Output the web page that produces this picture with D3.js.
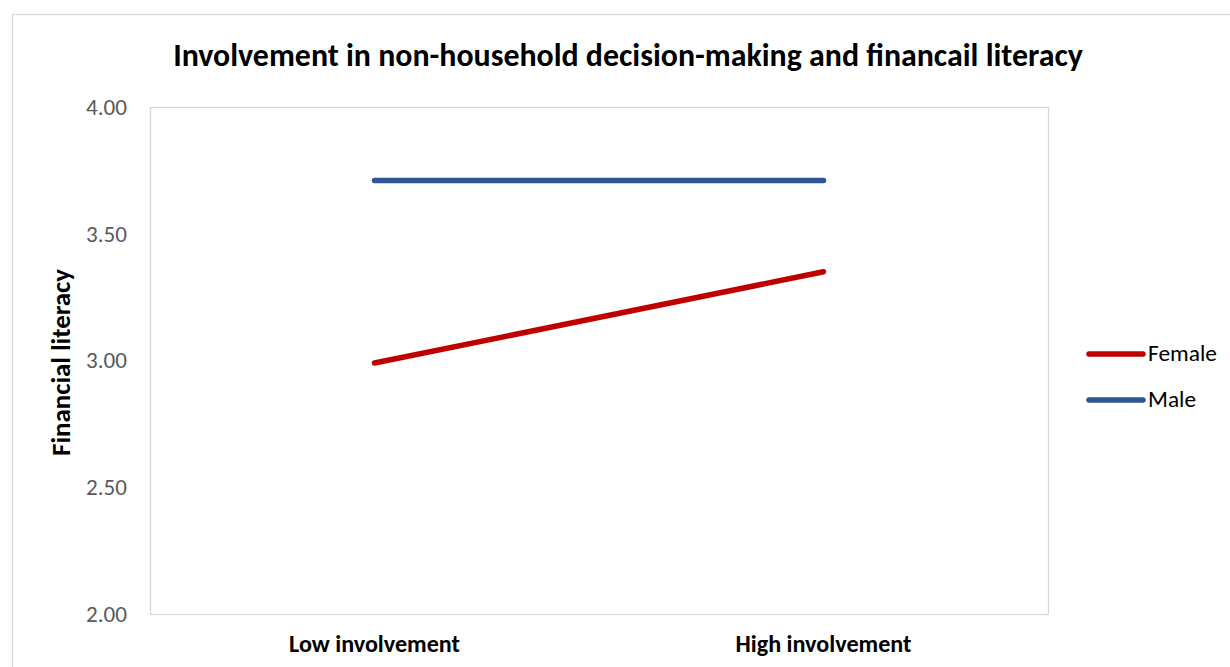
<!DOCTYPE html>
<html>
<head>
<meta charset="utf-8">
<script src="https://cdn.jsdelivr.net/npm/d3@7"></script>
<style>
  html, body { margin: 0; padding: 0; background: #fff; }
  svg { display: block; font-family: Calibri, Carlito, Lato, "Open Sans", sans-serif; }
</style>
</head>
<body>
<svg id="chart" width="1230" height="667"></svg>
<script>
// Mean financial literacy by involvement level and gender
const categories = ["Low involvement", "High involvement"];
const seriesNames = ["Female", "Male"];
const femaleValues = [2.99, 3.35];
const maleValues = [3.71, 3.71];
const yTicks = [2.00, 2.50, 3.00, 3.50, 4.00];
const seriesColors = ["#C00000", "#2F5597"];
const titleText = "Involvement in non-household decision-making and financail literacy";
const yAxisTitle = "Financial literacy";

const series = [
  { name: seriesNames[0], values: femaleValues, color: seriesColors[0] },
  { name: seriesNames[1], values: maleValues, color: seriesColors[1] }
];

const svg = d3.select("#chart");
const W = 1230, H = 667;
const plot = { left: 150, top: 107, right: 1048, bottom: 614 };
const fontStack = "Calibri, Carlito, Lato, 'Open Sans', sans-serif";

// outer chart frame (runs past the right and bottom edges)
svg.append("rect")
  .attr("x", 12.5).attr("y", 14.5)
  .attr("width", W + 20).attr("height", H + 20)
  .attr("fill", "#fff").attr("stroke", "#d9d9d9").attr("stroke-width", 1.3);

// scale a text element so its rendered width equals a target
function fitWidth(sel, target) {
  const node = sel.node();
  const size = parseFloat(sel.attr("font-size"));
  const w = node.getComputedTextLength();
  if (w > 0) sel.attr("font-size", size * target / w);
  return sel;
}

const x = d3.scaleBand().domain(categories).range([plot.left, plot.right]);
const y = d3.scaleLinear().domain([2, 4]).range([plot.bottom, plot.top]);

// plot area border
svg.append("rect")
  .attr("x", plot.left + 0.5).attr("y", plot.top + 0.5)
  .attr("width", plot.right - plot.left).attr("height", plot.bottom - plot.top)
  .attr("fill", "none").attr("stroke", "#d9d9d9").attr("stroke-width", 1.3);

// title
const title = svg.append("text")
  .attr("x", 628).attr("y", 66)
  .attr("text-anchor", "middle")
  .attr("font-weight", "bold").attr("font-size", 26).attr("fill", "#000")
  .text(titleText);
fitWidth(title, 910);

// y axis (labels only)
const yAxis = d3.axisLeft(y).tickValues(yTicks).tickFormat(d3.format(".2f")).tickSize(0).tickPadding(23);
const yG = svg.append("g").attr("transform", `translate(${plot.left},0)`).call(yAxis);
yG.select(".domain").remove();
yG.selectAll("text")
  .attr("font-size", 18).attr("fill", "#595959")
  .attr("font-family", fontStack)
  .each(function () { fitWidth(d3.select(this), 41); });

// x axis (labels only)
const xAxis = d3.axisBottom(x).tickSize(0).tickPadding(0);
const xG = svg.append("g").attr("transform", `translate(0,${plot.bottom})`).call(xAxis);
xG.select(".domain").remove();
xG.selectAll("text")
  .attr("y", 38).attr("dy", 0)
  .attr("font-size", 18).attr("font-weight", "bold").attr("fill", "#000")
  .attr("font-family", fontStack)
  .each(function () { fitWidth(d3.select(this), this.textContent.startsWith("Low") ? 171 : 176); });

// y axis title
svg.append("text")
  .attr("transform", `translate(70,${(plot.top + plot.bottom) / 2 + 2}) rotate(-90)`)
  .attr("text-anchor", "middle")
  .attr("font-size", 19).attr("font-weight", "bold").attr("fill", "#000")
  .text(yAxisTitle)
  .call(s => fitWidth(s, 187));

// series lines
const line = d3.line()
  .x((d, i) => x(categories[i]) + x.bandwidth() / 2)
  .y(d => y(d));

svg.append("g").selectAll("path")
  .data(series)
  .join("path")
  .attr("d", d => line(d.values))
  .attr("fill", "none")
  .attr("stroke", d => d.color)
  .attr("stroke-width", 5.5)
  .attr("stroke-linecap", "round");

// legend
const legend = svg.append("g").selectAll("g")
  .data(series)
  .join("g")
  .attr("transform", (d, i) => `translate(1089,${354 + i * 46})`);
legend.append("line")
  .attr("x1", 0).attr("x2", 54)
  .attr("stroke", d => d.color).attr("stroke-width", 5.5).attr("stroke-linecap", "round");
legend.append("text")
  .attr("x", 59).attr("y", 6.5)
  .attr("font-size", 18).attr("fill", "#000")
  .text(d => d.name)
  .each(function (d) { fitWidth(d3.select(this), d.name === "Female" ? 69 : 48); });
</script>
</body>
</html>
